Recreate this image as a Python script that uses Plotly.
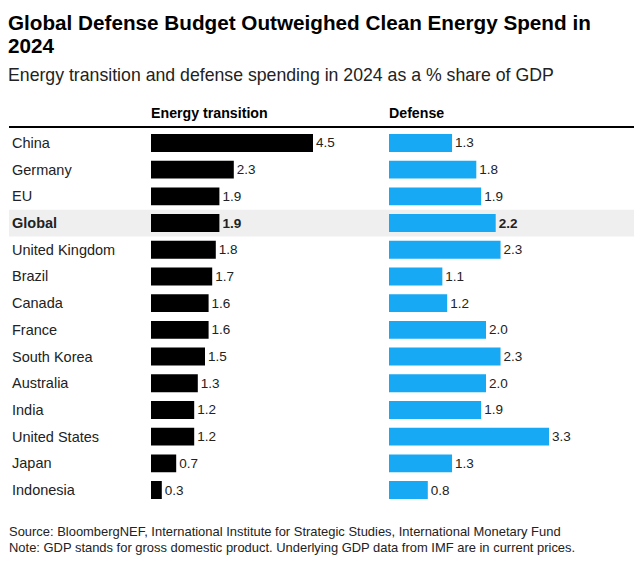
import plotly.graph_objects as go
from plotly.subplots import make_subplots

W, H = 642, 569
OFF = 8  # page body margin pushes the figure 8px right and down

countries = ["China", "Germany", "EU", "Global", "United Kingdom", "Brazil", "Canada",
             "France", "South Korea", "Australia", "India", "United States", "Japan", "Indonesia"]
energy = [4.5, 2.3, 1.9, 1.9, 1.8, 1.7, 1.6, 1.6, 1.5, 1.3, 1.2, 1.2, 0.7, 0.3]
defense = [1.3, 1.8, 1.9, 2.2, 2.3, 1.1, 1.2, 2.0, 2.3, 2.0, 1.9, 3.3, 1.3, 0.8]
highlight = "Global"

FONT = "Liberation Sans, Arial, sans-serif"
BLUE = "#17a9f4"


def px_x(p):
    return (p - OFF) / W


def px_y(p):
    return 1 - (p - OFF) / H


def labels(vals):
    return ["<b>%.1f</b>" % v if c == highlight else "%.1f" % v for c, v in zip(countries, vals)]


fig = make_subplots(rows=1, cols=2)

for col, vals, color in [(1, energy, "#000000"), (2, defense, BLUE)]:
    fig.add_trace(go.Bar(
        y=countries, x=vals, orientation="h",
        marker=dict(color=color, line_width=0),
        width=0.67,
        text=labels(vals), textposition="outside", cliponaxis=False,
        textfont=dict(size=13.5, color="#222222", family=FONT),
        hoverinfo="skip", showlegend=False,
    ), row=1, col=col)

# row layout: first centre at 143px, step ~26.7px
y_top, y_bot = 129.6, 503.4
for ax in ["yaxis", "yaxis2"]:
    fig.layout[ax].update(domain=[px_y(y_bot), px_y(y_top)], autorange=False,
                          range=[len(countries) - 0.5, -0.5], showticklabels=False,
                          showgrid=False, zeroline=False, showline=False, ticks="")
fig.layout.xaxis.update(domain=[px_x(151), px_x(371)], range=[0, 220 / 36.0])
fig.layout.xaxis2.update(domain=[px_x(389), px_x(636)], range=[0, 247 / 48.5])
for ax in ["xaxis", "xaxis2"]:
    fig.layout[ax].update(visible=False, fixedrange=True)

hi = countries.index(highlight)
fig.add_shape(type="rect", xref="paper", yref="y", x0=px_x(9), x1=px_x(636),
              y0=hi - 0.5, y1=hi + 0.5, fillcolor="#efefef", line_width=0, layer="below")
fig.add_shape(type="line", xref="paper", yref="paper", x0=px_x(9), x1=px_x(636),
              y0=px_y(127), y1=px_y(127), line=dict(color="#000000", width=2))

ann = []
for c in countries:
    txt = "<b>%s</b>" % c if c == highlight else c
    ann.append(dict(x=px_x(10), y=c, xref="paper", yref="y", text=txt, showarrow=False,
                    xanchor="left", yanchor="middle",
                    font=dict(size=14.5, color="#222222", family=FONT)))

ann.append(dict(x=px_x(149), y=px_y(113), text="<b>Energy transition</b>"))
ann.append(dict(x=px_x(387), y=px_y(113), text="<b>Defense</b>"))
ann.append(dict(x=px_x(6), y=px_y(22), text="<b>Global Defense Budget Outweighed Clean Energy Spend in</b>",
                font=dict(size=20.7, color="#000000", family=FONT)))
ann.append(dict(x=px_x(6), y=px_y(46), text="<b>2024</b>",
                font=dict(size=20.7, color="#000000", family=FONT)))
ann.append(dict(x=px_x(6), y=px_y(75),
                text="Energy transition and defense spending in 2024 as a % share of GDP",
                font=dict(size=17.7, color="#222222", family=FONT)))
ann.append(dict(x=px_x(7), y=px_y(531),
                text="Source: BloombergNEF, International Institute for Strategic Studies, International Monetary Fund",
                font=dict(size=12.95, color="#222222", family=FONT)))
ann.append(dict(x=px_x(7), y=px_y(547),
                text="Note: GDP stands for gross domestic product. Underlying GDP data from IMF are in current prices.",
                font=dict(size=12.95, color="#222222", family=FONT)))

for a in ann[len(countries):]:
    a.setdefault("font", dict(size=14.2, color="#000000", family=FONT))
    a.update(xref="paper", yref="paper", showarrow=False, xanchor="left", yanchor="middle")

fig.update_layout(
    width=W, height=H,
    margin=dict(l=0, r=0, t=0, b=0),
    paper_bgcolor="white", plot_bgcolor="rgba(0,0,0,0)",
    font=dict(family=FONT, color="#222222"),
    annotations=ann,
    bargap=0.33,
)

fig.write_html("out.html")
